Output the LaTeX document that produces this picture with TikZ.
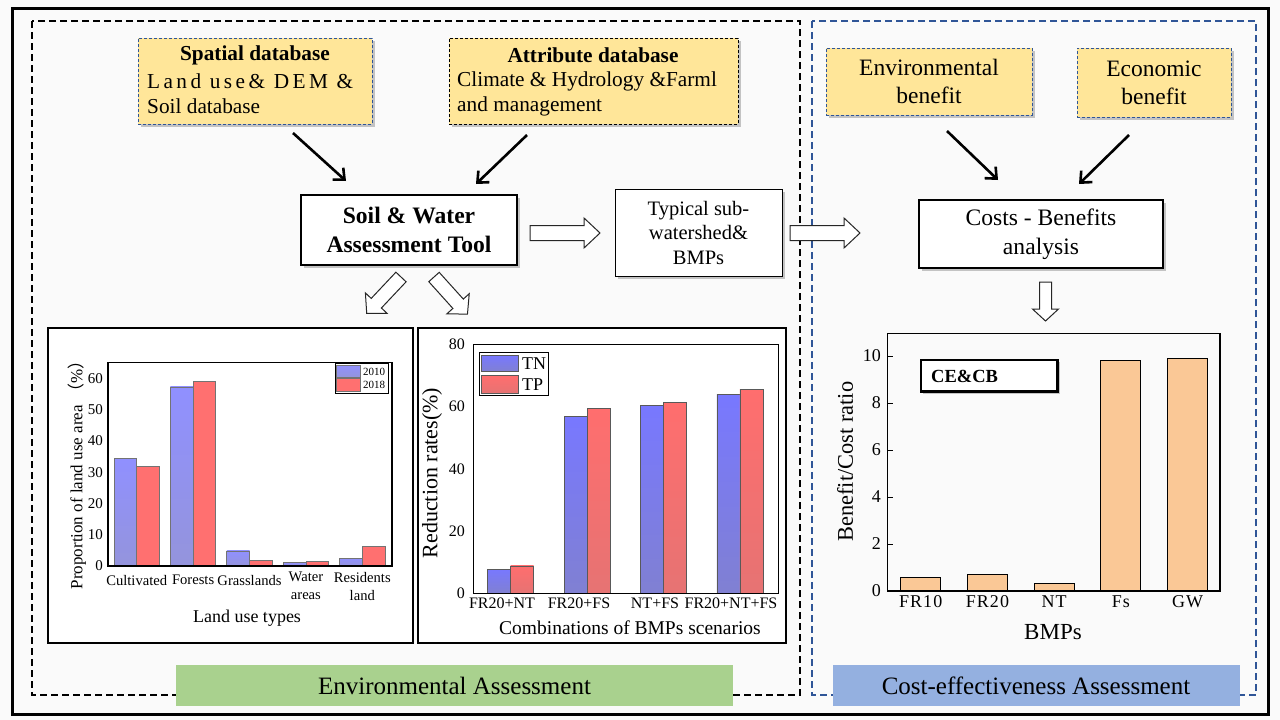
\documentclass[tikz,border=0pt]{standalone}
\usepackage{fontspec}
\setmainfont{Liberation Serif}
\newfontfamily\cjkf{Noto Sans CJK SC}
\usetikzlibrary{arrows.meta,shadows}
\definecolor{bgc}{HTML}{FAFAFA}
\definecolor{yfill}{HTML}{FFE699}
\definecolor{dblue}{HTML}{2F5597}
\definecolor{greenlab}{HTML}{A9D18E}
\definecolor{bluelab}{HTML}{94B0E0}
\definecolor{peach}{HTML}{FAC896}
\definecolor{bA}{HTML}{9090FF}
\definecolor{bB}{HTML}{9494DC}
\definecolor{rA}{HTML}{FF7070}
\definecolor{rB}{HTML}{F87272}
\definecolor{cA}{HTML}{7878FF}
\definecolor{cB}{HTML}{8080D2}
\definecolor{dA}{HTML}{FF6E6E}
\definecolor{dB}{HTML}{E67373}
\newcommand\fsz[2]{\fontsize{#1}{#2}\selectfont}
\tikzset{
  shd/.style={drop shadow={shadow xshift=2.5pt,shadow yshift=-2.5pt,opacity=0.22,fill=black}},
  ybox/.style={fill=yfill,draw=dblue,dash pattern=on 3pt off 2pt,line width=0.9pt,inner sep=0pt,shd},
  ybox2/.style={ybox,draw=black},
  wbox/.style={fill=white,draw=black,line width=2.6pt,inner sep=0pt,shd},
  tbox/.style={fill=white,draw=black,line width=1pt,inner sep=0pt,shd},
  barrow/.style={line width=2.6pt,-{Straight Barb[length=9pt,width=16pt]}},
  harrowst/.style={draw=black!85,fill=white,line width=1pt,line join=miter},
  pics/harrow/.style n args={4}{code={
    \draw[harrowst] (0,-#2) -- ({#1-#4},-#2) -- ({#1-#4},-#3) -- (#1,0) -- ({#1-#4},#3) -- ({#1-#4},#2) -- (0,#2) -- cycle;}},
  panel/.style={fill=white,draw=black,line width=1.2pt},
  lab/.style={inner sep=0pt},
  bar1b/.style={top color=bA,bottom color=bB,draw=black!55,line width=0.7pt},
  bar1r/.style={fill=rA,draw=black!55,line width=0.7pt},
  bar2b/.style={top color=cA,bottom color=cB,draw=black!65,line width=0.8pt},
  bar2r/.style={top color=dA,bottom color=dB,draw=black!65,line width=0.8pt},
  bar3/.style={fill=peach,draw=black,line width=1pt},
  sect/.style={line width=1.2pt,dash pattern=on 7pt off 4pt},
}
\begin{document}
\begin{tikzpicture}[x=1pt,y=-1pt]
\useasboundingbox (0,0) rectangle (1280,720);
\fill[bgc] (0,0) rectangle (1280,720);
\draw[line width=3pt] (12,8) rectangle (1268,714);
\draw[sect,black] (32,21) rectangle (800,695);
\draw[sect,dblue] (812,21) rectangle (1256,695);

% ---- top-left boxes
\node[ybox,minimum width=234pt,minimum height=86pt] (sp) at (255,81) {};
\node[lab,font=\fsz{21.3}{25}\bfseries] (spt) at (255,55) {Spatial database};
\node[lab,anchor=west,font=\fsz{21.3}{25}\addfontfeature{LetterSpace=16}] (sp1) at (147,81) {Land use\& DEM \&};
\node[lab,anchor=west,font=\fsz{21.3}{25}] (sp2) at (147,106) {Soil database};

\node[ybox2,minimum width=289pt,minimum height=86pt] (at) at (593.5,81) {};
\node[lab,font=\fsz{21.3}{25}\bfseries] (att) at (593,55) {Attribute database};
\node[lab,anchor=west,font=\fsz{21.3}{25}] (at1) at (457,81) {Climate \& Hydrology \&Farml};
\node[lab,anchor=west,font=\fsz{21.3}{25}] (at2) at (457,106) {and management};

\node[wbox,minimum width=216pt,minimum height=70pt,align=center,font=\fsz{23.6}{29}\bfseries] (swat) at (409,230) {Soil \& Water\\Assessment Tool};
\node[tbox,minimum width=167pt,minimum height=87pt,align=center,font=\fsz{20.5}{24.5}] (typ) at (698.5,232.5) {Typical sub-\\watershed\&\\BMPs};

\coordinate (a1s) at (293,133); \coordinate (a1e) at (346,181);
\coordinate (a2s) at (527,135); \coordinate (a2e) at (476,184);
\draw[barrow] (a1s) -- (a1e);
\draw[barrow] (a2s) -- (a2e);

\pic (h1) at (530,233) {harrow={70}{7.5}{15}{16}};
\pic (h2) at (790,233) {harrow={70}{7.5}{15}{16}};
\pic[rotate=226.7] (h3) at (401,277) {harrow={50}{7}{15}{14}};
\pic[rotate=312] (h4) at (434,277) {harrow={50}{7}{15}{14}};
\pic[rotate=-90] (h5) at (1045.5,282) {harrow={39}{6}{13}{12}};

% ---- right top
\node[ybox,minimum width=206pt,minimum height=67pt,align=center,font=\fsz{23.5}{28}] (env) at (929,81.5) {Environmental\\benefit};
\node[ybox,minimum width=154pt,minimum height=69pt,align=center,font=\fsz{23.5}{28}] (eco) at (1154,82.5) {Economic\\benefit};
\node[wbox,minimum width=244pt,minimum height=68pt,align=center,font=\fsz{23.6}{29}] (cb) at (1041,234) {Costs - Benefits\\analysis};
\coordinate (a3s) at (947,131); \coordinate (a3e) at (998,180);
\coordinate (a4s) at (1129,135); \coordinate (a4e) at (1079,184);
\draw[barrow] (a3s) -- (a3e);
\draw[barrow] (a4s) -- (a4e);

% ---- chart 1
\draw[panel] (48,328) rectangle (413,643);
\foreach \i/\a/\b in {0/34.5/31.8,1/57.2/59,2/4.8/1.9,3/1.2/1.5,4/2.5/6.3}{
  \pgfmathsetmacro\c{136.7+56.4*\i}
  \draw[bar1b] ({\c-22.7},566) rectangle (\c,{566-3.13*\a});
  \draw[bar1r] (\c,566) rectangle ({\c+22.7},{566-3.13*\b});
}
\draw[line width=1.2pt] (108,362.5) rectangle (392,566);
\foreach \v in {0,10,...,60}{
  \node[lab,anchor=east,font=\fsz{15}{17}] (y1-\v) at (103,{566-3.13*\v}) {\v};
}
\node[lab,font=\fsz{14.6}{18}] (x1a) at (136.7,580) {Cultivated};
\node[lab,font=\fsz{14.6}{18}] (x1b) at (193.1,580) {Forests};
\node[lab,font=\fsz{14.6}{18}] (x1c) at (249.5,580) {Grasslands};
\node[lab,font=\fsz{14.6}{18},align=center,anchor=north] (x1d) at (305.9,572) {Water\\areas};
\node[lab,font=\fsz{14.6}{18},align=center,anchor=north] (x1e) at (362.3,572) {Residents\\land};
\node[lab,font=\fsz{18}{20}] (x1t) at (247,618) {Land use types};
\node[lab,rotate=90,font=\fsz{17}{20}] (y1t) at (77,471) {Proportion of land use area {\cjkf （}\%{\cjkf ）}};
\draw[fill=white,line width=0.8pt] (335,363) rectangle (388,393);
\draw[bar1b] (336.5,365) rectangle (360,377.5);
\draw[bar1r] (336.5,378.5) rectangle (360,391);
\node[lab,anchor=west,font=\fsz{11}{12}] (l1a) at (363,371.5) {2010};
\node[lab,anchor=west,font=\fsz{11}{12}] (l1b) at (363,385) {2018};

% ---- chart 2
\draw[panel] (418,328) rectangle (786,643);
\foreach \i/\a/\b in {0/7.8/8.8,1/56.7/59.4,2/60.3/61.3,3/63.8/65.5}{
  \pgfmathsetmacro\c{510.7+76.4*\i}
  \draw[bar2b] ({\c-23},593.3) rectangle (\c,{593.3-3.1125*\a});
  \draw[bar2r] (\c,593.3) rectangle ({\c+23},{593.3-3.1125*\b});
}
\draw[line width=1.2pt] (473.3,344.3) rectangle (778.3,593.3);
\foreach \v in {0,20,...,80}{
  \node[lab,anchor=east,font=\fsz{16}{18}] (y2-\v) at (465,{593.3-3.1125*\v}) {\v};
}
\node[lab,font=\fsz{16}{18}] (x2a) at (502,603) {FR20+NT};
\node[lab,font=\fsz{16}{18}] (x2b) at (579,603) {FR20+FS};
\node[lab,font=\fsz{16}{18}] (x2c) at (655,603) {NT+FS};
\node[lab,font=\fsz{16}{18}] (x2d) at (731,603) {FR20+NT+FS};
\node[lab,font=\fsz{19.5}{22}] (x2t) at (630,628) {Combinations of BMPs scenarios};
\node[lab,rotate=90,font=\fsz{22}{24}] (y2t) at (432,473) {Reduction rates(\%)};
\draw[fill=white,line width=0.8pt] (479,352.3) rectangle (548.3,395.7);
\draw[bar2b] (481.7,355) rectangle (518.3,371.7);
\draw[bar2r] (481.7,375.7) rectangle (518.3,393.3);
\node[lab,anchor=west,font=\fsz{18}{20}] (l2a) at (522,363.3) {TN};
\node[lab,anchor=west,font=\fsz{18}{20}] (l2b) at (522,384.5) {TP};

% ---- chart 3
\foreach \i/\a in {0/0.58,1/0.72,2/0.3,3/9.8,4/9.88}{
  \pgfmathsetmacro\c{920.7+66.75*\i}
  \draw[bar3] ({\c-20},591) rectangle ({\c+20},{591-23.5*\a});
}
\draw[line width=1.2pt] (887.3,333.3) rectangle (1220,591);
\foreach \v in {0,2,...,10}{
  \draw[line width=1pt] (887.3,{591-23.5*\v}) -- (893,{591-23.5*\v});
  \node[lab,anchor=east,font=\fsz{18}{20}] (y3-\v) at (881,{591-23.5*\v}) {\v};
}
\foreach \n/\t [count=\k from 0] in {a/FR10,b/FR20,c/NT,d/Fs,e/GW}{
  \node[lab,font=\fsz{18}{20}\addfontfeature{LetterSpace=6}] (x3\n) at ({920.7+66.75*\k},601.7) {\t};
}
\node[lab,font=\fsz{23}{25}] (x3t) at (1053,631.7) {BMPs};
\node[lab,rotate=90,font=\fsz{22.4}{25}] (y3t) at (845,461.7) {Benefit/Cost ratio};
\node[fill=white,draw=black,line width=2.4pt,minimum width=136.6pt,minimum height=31.7pt,inner sep=0pt,shd] (cecb) at (989,375.8) {};
\node[lab,anchor=west,font=\fsz{18.5}{20}\bfseries] (cecbt) at (931,376.5) {CE\&CB};

% ---- bottom labels
\node[fill=greenlab,minimum width=557pt,minimum height=41pt,inner sep=0pt,font=\fsz{25}{27}] (envA) at (454.5,685.5) {Environmental Assessment};
\node[fill=bluelab,minimum width=407pt,minimum height=41pt,inner sep=0pt,font=\fsz{25}{27}] (ceA) at (1036,685.5) {Cost-effectiveness Assessment};
\end{tikzpicture}
\end{document}
